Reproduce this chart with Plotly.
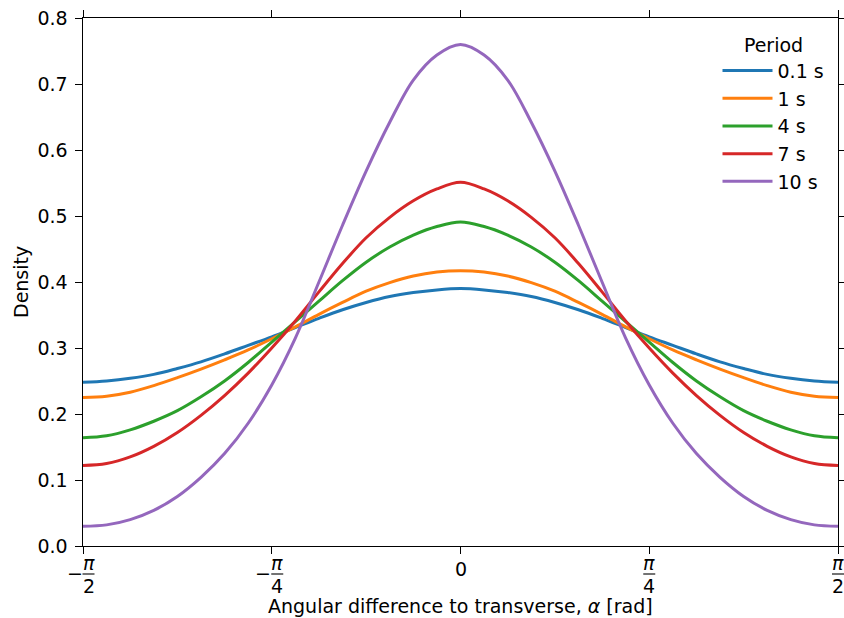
import math
import plotly.graph_objects as go

# Sample positions: multiples of pi/32 from -pi/2 to pi/2
alpha_steps = list(range(-16, 17))
alpha = [k * math.pi / 32 for k in alpha_steps]

period_labels = ["0.1 s", "1 s", "4 s", "7 s", "10 s"]
period_colors = ["#1f77b4", "#ff7f0e", "#2ca02c", "#d62728", "#9467bd"]

density_p01 = [0.248, 0.250, 0.254, 0.260, 0.269, 0.279, 0.291, 0.304, 0.317,
               0.331, 0.345, 0.358, 0.369, 0.378, 0.384, 0.388, 0.390,
               0.388, 0.384, 0.378, 0.369, 0.358, 0.345, 0.331, 0.317,
               0.304, 0.291, 0.279, 0.269, 0.260, 0.254, 0.250, 0.248]
density_p1 = [0.225, 0.227, 0.233, 0.243, 0.255, 0.268, 0.282, 0.297, 0.314,
              0.332, 0.351, 0.369, 0.386, 0.399, 0.409, 0.415, 0.417,
              0.415, 0.409, 0.399, 0.386, 0.369, 0.351, 0.332, 0.314,
              0.297, 0.282, 0.268, 0.255, 0.243, 0.233, 0.227, 0.225]
density_p4 = [0.164, 0.167, 0.176, 0.189, 0.205, 0.226, 0.250, 0.278, 0.309,
              0.340, 0.371, 0.402, 0.430, 0.453, 0.471, 0.484, 0.491,
              0.484, 0.471, 0.453, 0.430, 0.402, 0.371, 0.340, 0.309,
              0.278, 0.250, 0.226, 0.205, 0.189, 0.176, 0.167, 0.164]
density_p7 = [0.122, 0.125, 0.135, 0.151, 0.172, 0.198, 0.228, 0.262, 0.300,
              0.341, 0.385, 0.428, 0.467, 0.498, 0.523, 0.541, 0.551,
              0.541, 0.523, 0.498, 0.467, 0.428, 0.385, 0.341, 0.300,
              0.262, 0.228, 0.198, 0.172, 0.151, 0.135, 0.125, 0.122]
density_p10 = [0.030, 0.032, 0.040, 0.054, 0.075, 0.104, 0.140, 0.186, 0.244,
               0.315, 0.400, 0.486, 0.568, 0.642, 0.706, 0.744, 0.760,
               0.744, 0.706, 0.642, 0.568, 0.486, 0.400, 0.315, 0.244,
               0.186, 0.140, 0.104, 0.075, 0.054, 0.040, 0.032, 0.030]
densities = [density_p01, density_p1, density_p4, density_p7, density_p10]

x_range = [-math.pi / 2, math.pi / 2]
y_range = [0.0, 0.8]
x_tick_values = [-math.pi / 2, -math.pi / 4, 0.0, math.pi / 4, math.pi / 2]
# (sign, numerator, denominator) for each x tick
x_tick_parts = [("−", "π", "2"), ("−", "π", "4"), ("", "0", ""),
                ("", "π", "4"), ("", "π", "2")]
y_tick_values = [0.0, 0.1, 0.2, 0.3, 0.4, 0.5, 0.6, 0.7, 0.8]

W, H = 844, 618
M_L, M_R, M_T, M_B = 83, 6, 18, 72
PLOT_W = W - M_L - M_R
PLOT_H = H - M_T - M_B
FONT = "DejaVu Sans"
FS = 19
TXT = dict(family=FONT, size=FS, color="black")


def px_to_paper_y(py):
    return (H - M_B - py) / PLOT_H


def px_to_paper_x(px):
    return (px - M_L) / PLOT_W


def value_to_paper_x(v):
    return (v - x_range[0]) / (x_range[1] - x_range[0])


fig = go.Figure()
for label, vals, color in zip(period_labels, densities, period_colors):
    fig.add_trace(go.Scatter(
        x=alpha, y=vals, mode="lines", name=label,
        line=dict(color=color, width=3.0, shape="spline", smoothing=1.0),
    ))

BAR_Y = 574
annotations = []
shapes = []
for tv, (sign, num, den) in zip(x_tick_values, x_tick_parts):
    xp = value_to_paper_x(tv)
    if den == "":
        annotations.append(dict(
            x=xp, y=px_to_paper_y(569), xref="paper", yref="paper",
            text=num, showarrow=False, xanchor="center", yanchor="middle",
            font=TXT))
        continue
    shift = 5.5 if sign else 0
    annotations.append(dict(
        x=xp, y=px_to_paper_y(BAR_Y), xref="paper", yref="paper",
        text="<i>" + num + "</i>", showarrow=False, xanchor="center",
        yanchor="bottom", xshift=shift, yshift=-2, font=TXT))
    annotations.append(dict(
        x=xp, y=px_to_paper_y(BAR_Y), xref="paper", yref="paper",
        text=den, showarrow=False, xanchor="center", yanchor="top",
        xshift=shift, yshift=1, font=TXT))
    shapes.append(dict(
        type="line", xref="paper", yref="paper",
        x0=xp + (shift - 6) / PLOT_W, x1=xp + (shift + 6) / PLOT_W,
        y0=px_to_paper_y(BAR_Y), y1=px_to_paper_y(BAR_Y),
        line=dict(color="black", width=1.1)))
    if sign:
        annotations.append(dict(
            x=xp, y=px_to_paper_y(573), xref="paper", yref="paper",
            text=sign, showarrow=False, xanchor="center", yanchor="middle",
            xshift=-8.5, font=TXT))

annotations.append(dict(
    x=0.5, y=px_to_paper_y(606), xref="paper", yref="paper",
    text="Angular difference to transverse, <i>α</i> [rad]", showarrow=False,
    xanchor="center", yanchor="middle", font=TXT))
annotations.append(dict(
    x=px_to_paper_x(21), y=0.5, xref="paper", yref="paper",
    text="Density", showarrow=False, textangle=-90,
    xanchor="center", yanchor="middle", font=TXT))

axis_common = dict(
    showgrid=False, zeroline=False, showline=True, linecolor="black",
    linewidth=1.4, mirror="ticks", ticks="outside", ticklen=6.4, tickwidth=1.4,
    tickcolor="black", automargin=False,
)

fig.update_layout(
    width=W, height=H,
    margin=dict(l=M_L, r=M_R, t=M_T, b=M_B, pad=0),
    paper_bgcolor="white", plot_bgcolor="white",
    font=TXT,
    xaxis=dict(range=x_range, tickvals=x_tick_values, showticklabels=False,
               **axis_common),
    yaxis=dict(range=y_range, tickvals=y_tick_values, tickformat=".1f",
               ticklabelstandoff=4, tickfont=TXT, **axis_common),
    legend=dict(
        x=px_to_paper_x(829.5), y=px_to_paper_y(27), xanchor="right",
        yanchor="top", bgcolor="rgba(255,255,255,0)", borderwidth=0,
        itemwidth=50,
        title=dict(text="Period", side="top center", font=TXT),
        font=TXT,
    ),
    annotations=annotations,
    shapes=shapes,
    showlegend=True,
)

fig.write_html("out.html")
